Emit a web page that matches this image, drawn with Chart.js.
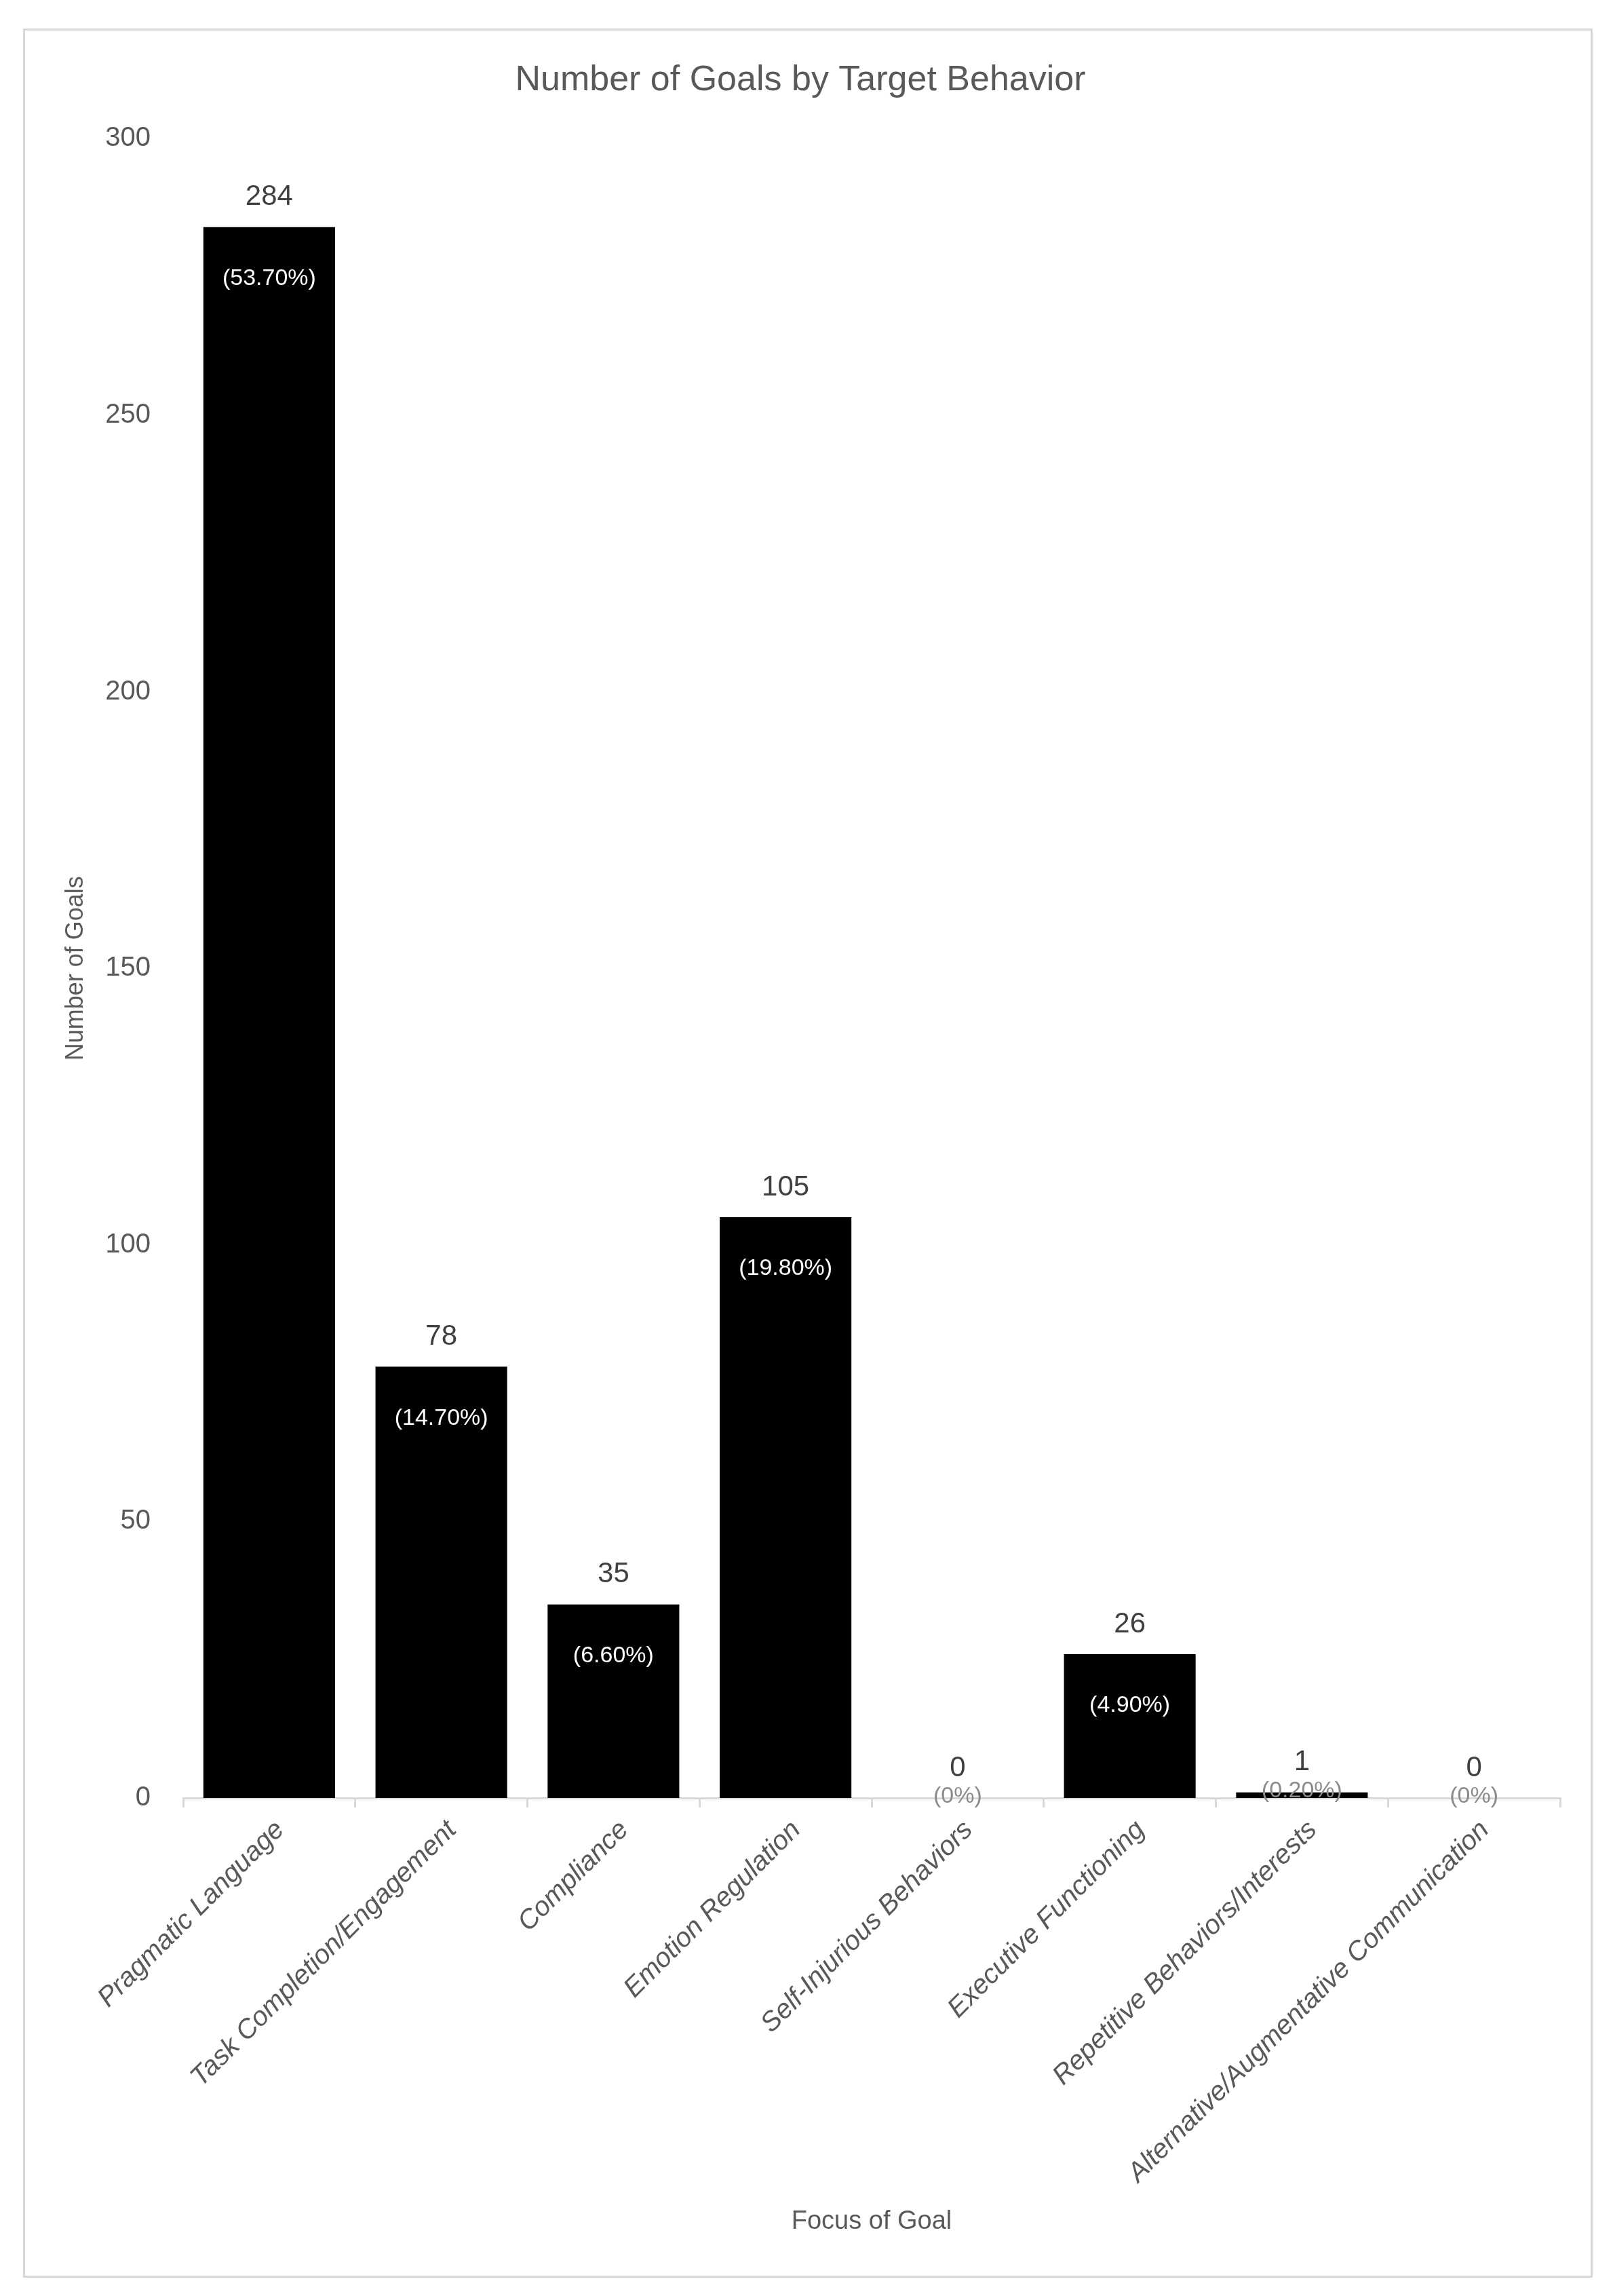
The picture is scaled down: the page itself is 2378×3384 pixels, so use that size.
<!DOCTYPE html>
<html>
<head>
<meta charset="utf-8">
<script src="https://cdn.jsdelivr.net/npm/chart.js@4.4.1/dist/chart.umd.min.js"></script>
<style>
  html, body { margin: 0; padding: 0; background: #fff; }
  #frame {
    position: absolute; left: 34px; top: 42px;
    width: 2308px; height: 3309px;
    border: 3px solid #d9d9d9;
  }
  #chart { position: absolute; left: 0; top: 0; }
</style>
</head>
<body>
<div id="frame"></div>
<canvas id="chart" width="2378" height="3384"></canvas>
<script>
// Data
const categories = [
  "Pragmatic Language",
  "Task Completion/Engagement",
  "Compliance",
  "Emotion Regulation",
  "Self-Injurious Behaviors",
  "Executive Functioning",
  "Repetitive Behaviors/Interests",
  "Alternative/Augmentative Communication"
];
const goalCounts = [284, 78, 35, 105, 0, 26, 1, 0];
const goalPercents = ["(53.70%)", "(14.70%)", "(6.60%)", "(19.80%)", "(0%)", "(4.90%)", "(0.20%)", "(0%)"];
const yTicks = [0, 50, 100, 150, 200, 250, 300];

const FONT = "'Liberation Sans', Arial, sans-serif";

// Value + percentage labels on each bar
const barLabels = {
  id: "barLabels",
  afterDatasetsDraw(chart) {
    const ctx = chart.ctx;
    const meta = chart.getDatasetMeta(0);
    ctx.save();
    ctx.textAlign = "center";
    ctx.textBaseline = "middle";
    meta.data.forEach((bar, i) => {
      const h = bar.base - bar.y;
      ctx.font = "42px " + FONT;
      ctx.fillStyle = "#404040";
      ctx.fillText(String(goalCounts[i]), bar.x, bar.y - 44);
      ctx.font = "34px " + FONT;
      if (h > 110) {
        ctx.fillStyle = "#ffffff";
        ctx.fillText(goalPercents[i], bar.x, bar.y + 76);
      } else {
        // too short to hold the label, Excel greys it out on the axis
        ctx.fillStyle = "#8c8c8c";
        ctx.fillText(goalPercents[i], bar.x, bar.y - 2);
      }
    });
    ctx.restore();
  }
};

new Chart(document.getElementById("chart"), {
  type: "bar",
  data: {
    labels: categories,
    datasets: [{
      data: goalCounts,
      backgroundColor: "#000000",
      categoryPercentage: 1.0,
      barPercentage: 0.765
    }]
  },
  options: {
    responsive: false,
    animation: false,
    devicePixelRatio: 1,
    layout: { padding: { left: 60, right: 78, top: 87, bottom: 84 } },
    plugins: {
      legend: { display: false },
      tooltip: { enabled: false },
      title: {
        display: true,
        text: "Number of Goals by Target Behavior",
        color: "#595959",
        font: { family: FONT, size: 52, weight: "normal" },
        padding: { top: 0, bottom: 55 }
      }
    },
    scales: {
      x: {
        grid: {
          display: true, drawOnChartArea: false, drawTicks: true,
          tickLength: 14, color: "#d9d9d9", lineWidth: 3, offset: true
        },
        border: { display: true, color: "#d9d9d9", width: 3 },
        ticks: {
          color: "#595959", autoSkip: false,
          maxRotation: 45, minRotation: 45, padding: 10, labelOffset: 16,
          font: { family: FONT, size: 40, style: "italic" }
        },
        title: {
          display: true, text: "Focus of Goal", color: "#595959",
          font: { family: FONT, size: 38 },
          padding: { top: 0, bottom: 3 }
        },
        afterFit(scale) { scale.height = 650; }
      },
      y: {
        min: 0, max: 300,
        grid: { display: false, drawTicks: false },
        border: { display: false },
        afterBuildTicks(scale) { scale.ticks = yTicks.map(v => ({ value: v })); },
        ticks: {
          color: "#595959", padding: 48,
          font: { family: FONT, size: 40 }
        },
        title: {
          display: true, text: "Number of Goals", color: "#595959",
          font: { family: FONT, size: 36 },
          padding: { top: 30, bottom: 0 }
        },
        afterFit(scale) { scale.width = 210; }
      }
    }
  },
  plugins: [barLabels]
});
</script>
</body>
</html>
